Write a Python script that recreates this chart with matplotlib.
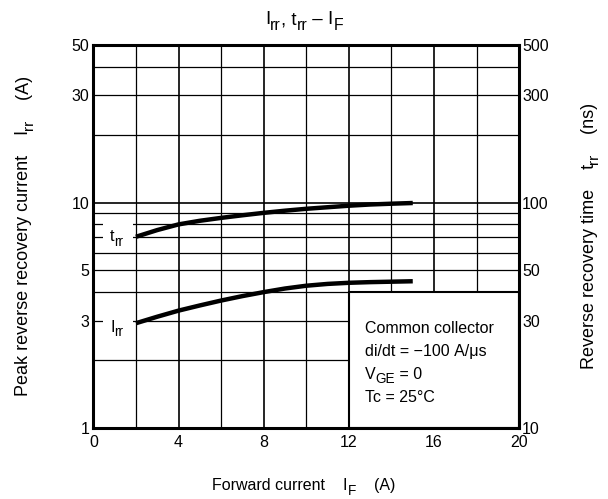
import numpy as np
import matplotlib
matplotlib.use("Agg")
import matplotlib.pyplot as plt
from matplotlib.patches import Rectangle

plt.rcParams["font.family"] = ["Liberation Sans", "DejaVu Sans"]

# forward current (A)
i_f = [2, 3, 4, 5, 6, 7, 8, 9, 10, 11, 12, 13, 14, 15]
# peak reverse recovery current (A)
i_rr = [2.92, 3.12, 3.32, 3.50, 3.68, 3.85, 4.01, 4.16, 4.28, 4.36, 4.41, 4.44, 4.46, 4.48]
# reverse recovery time (ns)
t_rr = [70.5, 75.5, 80.0, 83.0, 85.5, 87.8, 90.0, 92.0, 93.8, 95.3, 96.8, 98.0, 98.8, 99.5]

x_ticks = [0, 4, 8, 12, 16, 20]
left_ticks = [1, 3, 5, 10, 30, 50]
right_ticks = [10, 30, 50, 100, 300, 500]
grid_y = [1, 2, 3, 4, 5, 6, 7, 8, 9, 10, 20, 30, 40, 50]

FS = 11.5

fig = plt.figure(figsize=(6.08, 4.99), dpi=100)
renderer = fig.canvas.get_renderer()


def seg_text(px, py, parts, size=FS, rotation=0, ha="center", zorder=3):
    # parts: list of (string, is_subscript); px, py in pixels
    sizes = [size * 0.85 if sub else size for _, sub in parts]
    widths = []
    for (s, sub), fs in zip(parts, sizes):
        t = fig.text(0, 0, s.replace(" ", "\u00a0"), fontsize=fs)
        widths.append(t.get_window_extent(renderer).width)
        t.remove()
    total = sum(widths)
    if ha == "center":
        start = -total / 2
    elif ha == "left":
        start = 0
    else:
        start = -total
    ang = np.deg2rad(rotation)
    along = np.array([np.cos(ang), np.sin(ang)])
    down = np.array([np.sin(ang), -np.cos(ang)])
    pos = start
    for (s, sub), fs, w in zip(parts, sizes, widths):
        shift = size * 0.32 * fig.dpi / 72 if sub else 0
        p = np.array([px, py]) + along * pos + down * shift
        fig.text(p[0], p[1], s.replace(" ", "\u00a0"), fontsize=fs, rotation=rotation,
                 ha="left", va="center_baseline", transform=None, zorder=zorder,
                 rotation_mode="anchor")
        pos += w


ax = fig.add_axes([0.1535, 0.1417, 0.7005, 0.7687])
ax.set_xlim(0, 20)
ax.set_yscale("log")
ax.set_ylim(1, 50)

# grid
for gx in range(2, 20, 2):
    ax.axvline(gx, color="black", lw=1.2 if gx % 4 == 0 else 0.9, zorder=1)
for gy in grid_y:
    ax.axhline(gy, color="black", lw=1.2 if gy == 10 else 0.9, zorder=1)

ax.set_xticks(x_ticks)
ax.set_xticklabels([str(v) for v in x_ticks])
ax.set_yticks(left_ticks)
ax.set_yticklabels([str(v) for v in left_ticks])
ax.yaxis.set_minor_locator(plt.NullLocator())
ax.tick_params(axis="y", length=0, labelsize=FS, pad=3)
ax.tick_params(axis="x", length=0, labelsize=FS, pad=5)
for s in ax.spines.values():
    s.set_linewidth(2.2)
    s.set_zorder(5)

ax2 = ax.twinx()
ax2.set_yscale("log")
ax2.set_ylim(10, 500)
ax2.set_yticks(right_ticks)
ax2.set_yticklabels([str(v) for v in right_ticks])
ax2.yaxis.set_minor_locator(plt.NullLocator())
ax2.tick_params(axis="y", length=0, labelsize=FS, pad=2)
for s in ax2.spines.values():
    s.set_visible(False)

# curves (t_rr plotted on the right scale)
ax.plot(i_f, i_rr, color="black", lw=3.2, solid_capstyle="butt", zorder=4)
ax2.plot(i_f, t_rr, color="black", lw=3.2, solid_capstyle="butt", zorder=4)

# white gaps in the grid behind the curve labels
ax.add_patch(Rectangle((0.45, 6.5), 1.42, 1.95, facecolor="white", edgecolor="none", zorder=2))
ax.add_patch(Rectangle((0.45, 2.55), 1.42, 0.65, facecolor="white", edgecolor="none", zorder=2))

# condition box
ax.add_patch(Rectangle((12, 1), 8, 3, facecolor="white", edgecolor="black",
                       lw=1.5, zorder=3))

fig.canvas.draw()


def data_px(x, y):
    return ax.transData.transform((x, y))


p = data_px(1.1, 7.15)
seg_text(p[0], p[1], [("t", False), ("rr", True)], zorder=4)
p = data_px(1.1, 2.85)
seg_text(p[0], p[1], [("I", False), ("rr", True)], zorder=4)

cond = [[("Common collector", False)],
        [("di/dt = \u2212100 A/\u03bcs", False)],
        [("V", False), ("GE", True), (" = 0", False)],
        [("Tc = 25\u00b0C", False)]]
cond_y = [2.81, 2.22, 1.76, 1.39]
for parts, yy in zip(cond, cond_y):
    p = data_px(12.75, yy)
    seg_text(p[0], p[1], parts, ha="left", zorder=4)

W, H = 608, 499
seg_text(W * 0.5, H - 18, [("I", False), ("rr", True), (", t", False), ("rr", True),
                           (" \u2013 I", False), ("F", True)], size=13.5)
seg_text(W * 0.5, H - 484, [("Forward current    I", False), ("F", True), ("    (A)", False)])
seg_text(22, H - 236, [("Peak reverse recovery current    I", False), ("rr", True),
                       ("    (A)", False)], size=13, rotation=90)
seg_text(587, H - 236, [("Reverse recovery time    t", False), ("rr", True),
                        ("    (ns)", False)], size=13, rotation=90)

fig.savefig("out.png", dpi=100)
